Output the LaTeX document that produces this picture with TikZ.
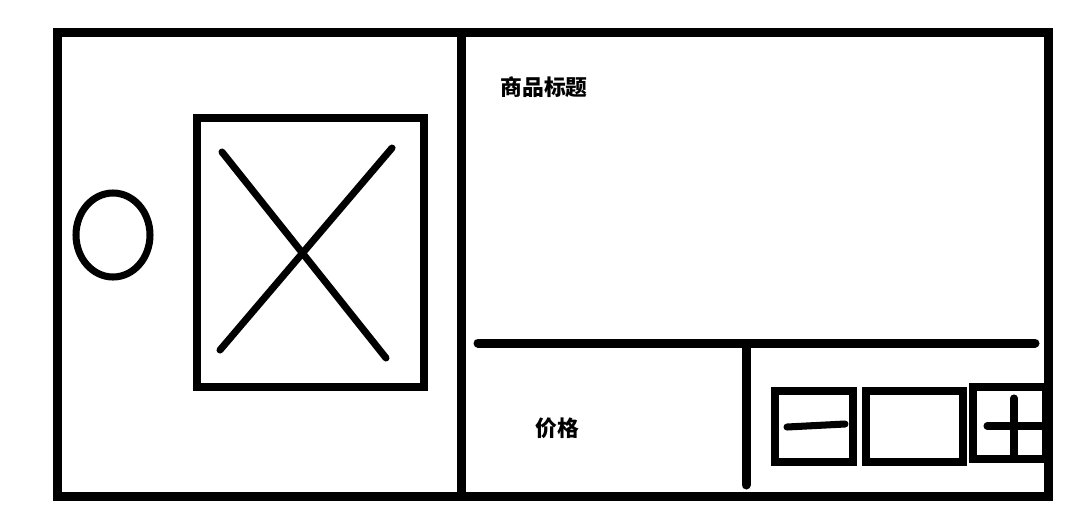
\documentclass[tikz,border=0pt]{standalone}
\usepackage{fontspec}
\usepackage{tikz}
\usetikzlibrary{positioning, calc}
\newfontfamily\cjk{Noto Sans CJK SC}
\tikzset{
  frame/.style={draw=black, line width=6.4pt, line cap=round, line join=miter},
  sketch/.style={draw=black, line width=5pt, line cap=round},
  btn/.style={draw=black, line width=5.8pt},
  lab/.style={font=\cjk\bfseries\fontsize{15.5}{18}\selectfont, text=black, inner sep=0pt}
}
\begin{document}
\begin{tikzpicture}[x=0.025cm, y=-0.025cm]
  \useasboundingbox (0,0) rectangle (1072,508);
  \fill[white] (0,0) rectangle (1072,508);
  % outer card
  \draw[frame, line cap=butt] (57,32) rectangle (1048,496);
  \draw[frame, line cap=butt] (461,36) -- (461,500);
  % left part: check mark circle and picture
  \draw[sketch] (113,235) ellipse [x radius=37, y radius=42];
  \draw[btn] (197,118) rectangle (424,387);
  \draw[sketch] (222,152) -- (386,358);
  \draw[sketch] (392,148) -- (220,350);
  % right part
  \node[lab] (title) at (544,87) {商品标题};
  \draw[frame] (478,343) -- (1035,343);
  \draw[frame] (746,348) -- (746,485);
  \node[lab] (price) at (557,428) {价格};
  % counter
  \draw[btn] (775,391) rectangle (853,462);
  \draw[btn] (866,391) rectangle (963,462);
  \draw[btn] (973,387) rectangle (1046,459);
  \draw[sketch] (787,427) -- (845,424);
  \draw[sketch] (987,426) -- (1044,426);
  \draw[sketch] (1014,398) -- (1014,457);
\end{tikzpicture}
\end{document}
